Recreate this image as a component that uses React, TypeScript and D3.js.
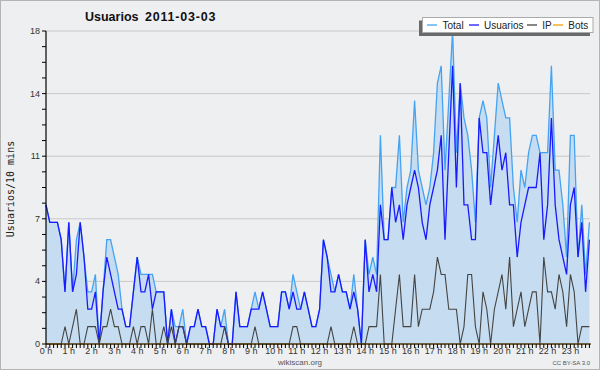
import React from 'react';
import * as d3 from 'd3';

const hourLabels = ['0 h','1 h','2 h','3 h','4 h','5 h','6 h','7 h','8 h','9 h','10 h','11 h','12 h','13 h','14 h','15 h','16 h','17 h','18 h','19 h','20 h','21 h','22 h','23 h'];

const yTickValues = [0, 3.6, 7.2, 10.8, 14.4, 18];
const yTickLabels = ['0', '4', '7', '11', '14', '18'];

const titleWord = 'Usuarios';
const titleDate = '2011-03-03';

const total = [
  8,7,7,7,6,3,7,3,6,7,
  5,3,3,4,0,3,6,6,5,4,
  2,1,1,3,5,4,4,4,4,3,
  3,3,0,2,1,1,2,0,1,1,
  2,1,1,0,0,2,1,2,0,0,
  3,1,1,1,2,3,2,3,2,1,
  1,1,3,3,2,4,3,2,3,2,
  1,1,2,6,5,4,3,4,3,3,
  2,4,2,0,6,4,5,4,12,6,
  6,9,9,12,7,9,10,14,10,9,
  8,9,11,15,16,10,14,18,11,15,
  13,12,10,7,13,14,13,9,12,15,
  14,13,13,9,7,10,9,11,12,12,
  11,11,11,16,10,10,8,5,12,12,
  5,8,4,7
];

const usuarios = [
  8,7,7,7,6,3,7,3,4,7,
  5,2,2,3,0,3,5,4,3,2,
  2,1,1,3,5,3,3,4,2,3,
  3,3,0,2,0,1,1,0,1,1,
  2,1,1,0,0,2,1,1,0,0,
  3,1,1,1,2,2,2,3,2,1,
  1,1,3,3,2,3,2,2,3,2,
  1,1,2,6,5,3,3,4,3,3,
  2,3,2,0,6,3,4,3,8,6,
  6,9,7,8,6,8,9,10,9,7,
  6,8,9,10,12,6,11,16,9,15,
  8,8,6,6,13,11,11,8,10,12,
  10,11,8,8,5,7,8,9,9,9,
  11,6,8,13,8,6,5,4,8,9,
  5,7,3,6
];

const ip = [
  0,0,0,0,0,1,0,1,2,0,
  0,1,1,1,0,1,1,2,1,1,
  0,0,0,1,0,1,1,0,2,0,
  0,1,0,1,0,1,1,0,0,0,
  0,0,0,0,0,0,0,1,0,0,
  0,0,0,0,0,1,0,0,0,0,
  0,0,0,0,0,1,1,0,0,0,
  0,0,0,0,0,1,0,0,0,0,
  0,1,0,0,0,1,1,1,4,0,
  0,0,2,4,1,1,1,4,1,2,
  2,2,3,5,4,4,2,2,2,0,
  1,4,4,1,0,3,2,0,2,3,
  4,2,5,1,2,3,1,2,3,3,
  0,5,3,3,2,4,3,1,4,3,
  0,1,1,1
];

const bots = [
  0,0,0,0,0,0,0,0,0,0,
  0,0,0,0,0,0,0,0,0,0,
  0,0,0,0,0,0,0,0,0,0,
  0,0,0,0,0,0,0,0,0,0,
  0,0,0,0,0,0,0,0,0,0,
  0,0,0,0,0,0,0,0,0,0,
  0,0,0,0,0,0,0,0,0,0,
  0,0,0,0,0,0,0,0,0,0,
  0,0,0,0,0,0,0,0,0,0,
  0,0,0,0,0,0,0,0,0,0,
  0,0,0,0,0,0,0,0,0,0,
  0,0,0,0,0,0,0,0,0,0,
  0,0,0,0,0,0,0,0,0,0,
  0,0,0,0,0,0,0,0,0,0,
  0,0,0,0
];

const legendNames = ['Total', 'Usuarios', 'IP', 'Bots'];

const C_TOTAL = '#45a3f2';
const C_USU = '#1a1aff';
const C_IP = '#444444';
const C_BOTS = '#f5a000';
const C_FILL = '#c6dcf0';
const C_BG = '#eeeff1';

export default function App() {
  const x0 = 46, x1 = 589.4, yBottom = 344, yTop = 31;
  const x = d3.scaleLinear().domain([0, total.length - 1]).range([x0, x1]);
  const y = d3.scaleLinear().domain([0, 18]).range([yBottom, yTop]);
  const line = d3.line<number>().x((_, i) => x(i)).y(d => y(d));
  const area = d3.area<number>().x((_, i) => x(i)).y0(y(0)).y1(d => y(d));
  const minorY = d3.range(0, 21).map(k => k * 0.9);
  const font = 'Liberation Sans, Arial, sans-serif';

  const legendLines = [
    { name: legendNames[0], color: C_TOTAL, lx: 427, tx: 442.5 },
    { name: legendNames[1], color: C_USU, lx: 469, tx: 484 },
    { name: legendNames[2], color: C_IP, lx: 527, tx: 542.3 },
    { name: legendNames[3], color: C_BOTS, lx: 553, tx: 568.3 },
  ];

  return (
    <svg width={600} height={370} style={{ position: 'absolute', left: 0, top: 0 }}
      xmlns="http://www.w3.org/2000/svg">
      <rect x={0.5} y={0.5} width={599} height={369} fill={C_BG} stroke="#b4b4b4" />
      <text x={85} y={21} fontFamily={font} fontWeight="bold" fontSize={12.5} fill="#111">{titleWord}</text>
      <text x={145} y={21} fontFamily={font} fontWeight="bold" fontSize={12.5} letterSpacing={0.8} fill="#111">{titleDate}</text>

      {yTickValues.filter(v => v > 0).map((v, k) => (
        <line key={'g' + k} x1={x0} x2={590} y1={y(v)} y2={y(v)} stroke="#c9c9c9" strokeWidth={1} />
      ))}

      <path d={area(total) || ''} fill={C_FILL} />
      <path d={line(total) || ''} fill="none" stroke={C_TOTAL} strokeWidth={1.3} />
      <path d={line(usuarios) || ''} fill="none" stroke={C_USU} strokeWidth={1.3} />
      <path d={line(ip) || ''} fill="none" stroke={C_IP} strokeWidth={1.1} />
      <path d={line(bots) || ''} fill="none" stroke={C_BOTS} strokeWidth={1} />

      {/* y axis */}
      <line x1={x0} x2={x0} y1={yTop} y2={yBottom} stroke="#000" strokeWidth={1.2} />
      {minorY.map((v, k) => (
        <line key={'ym' + k} x1={42} x2={x0} y1={y(v)} y2={y(v)} stroke="#000" strokeWidth={1} />
      ))}
      {yTickValues.map((v, k) => (
        <text key={'yl' + k} x={40} y={y(v) + 3} textAnchor="end" fontFamily={font} fontSize={9} fill="#333">
          {yTickLabels[k]}
        </text>
      ))}

      {/* x axis */}
      <line x1={x0} x2={591} y1={yBottom} y2={yBottom} stroke="#000" strokeWidth={1.2} />
      {total.map((_, i) => (
        <line key={'xt' + i} x1={x(i)} x2={x(i)} y1={yBottom} y2={yBottom + 4} stroke="#000" strokeWidth={1} />
      ))}
      {hourLabels.map((h, k) => (
        <text key={'xl' + k} x={x(k * 6)} y={354} textAnchor="middle" fontFamily={font} fontSize={9} fill="#333">
          {h}
        </text>
      ))}

      <text transform="translate(14,189) rotate(-90)" textAnchor="middle"
        fontFamily="DejaVu Sans Mono, monospace" fontSize={10} fill="#222">Usuarios/10 mins</text>

      <text x={300} y={365} textAnchor="middle" fontFamily={font} fontSize={8} fill="#555">wikiscan.org</text>
      <text x={590} y={365} textAnchor="end" fontFamily={font} fontSize={6} fill="#555">CC BY-SA 3.0</text>

      {/* legend */}
      <rect x={419} y={20.5} width={171} height={15.5} fill="#6a6a6a" />
      <rect x={422.5} y={17.5} width={170.5} height={15} fill="#ffffff" stroke="#aaaaaa" />
      {legendLines.map((l, k) => (
        <g key={'lg' + k}>
          <line x1={l.lx} x2={l.lx + 10} y1={25} y2={25} stroke={l.color} strokeWidth={1.3} />
          <text x={l.tx} y={28.5} fontFamily={font} fontSize={10} fill="#222">{l.name}</text>
        </g>
      ))}
    </svg>
  );
}
